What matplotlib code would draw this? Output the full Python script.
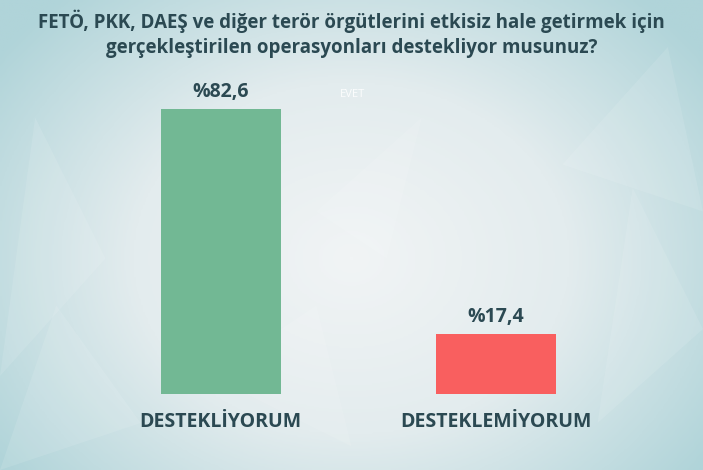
import numpy as np
import matplotlib.pyplot as plt
from matplotlib.colors import LinearSegmentedColormap
from matplotlib.patches import Polygon

categories = ['DESTEKLİYORUM', 'DESTEKLEMİYORUM']
values = [82.6, 17.4]
value_labels = ['%82,6', '%17,4']
bar_colors = ['#72b894', '#f95f5f']
title = ('FETÖ, PKK, DAEŞ ve diğer terör örgütlerini etkisiz hale getirmek için\n'
         'gerçekleştirilen operasyonları destekliyor musunuz?')
text_color = '#2b4952'

plt.rcParams['font.family'] = ['Open Sans', 'DejaVu Sans']

fig = plt.figure(figsize=(7.03, 4.70), dpi=100)

# arka plan: kenarlara doğru turkuaz, ortası açık
bg = fig.add_axes([0, 0, 1, 1])
yy, xx = np.mgrid[0:1:200j, 0:1:300j]
dist = np.sqrt(((xx - 0.5) / 0.62) ** 2 + ((yy - 0.45) / 0.75) ** 2)
cmap = LinearSegmentedColormap.from_list('bg', ['#f1f4f5', '#e3ecee', '#b0d4d9'])
bg.imshow(np.clip(dist, 0, 1), cmap=cmap, extent=[0, 1, 0, 1], aspect='auto', origin='lower')
polys = [
    [(0.0, 0.2), (0.15, 0.45), (0.05, 0.75)],
    [(0.0, 0.0), (0.2, 0.1), (0.08, 0.35)],
    [(0.85, 0.1), (1.0, 0.3), (0.9, 0.6)],
    [(0.8, 0.65), (0.95, 0.9), (1.0, 0.55)],
    [(0.45, 0.55), (0.6, 0.75), (0.55, 0.45)],
    [(0.3, 0.2), (0.5, 0.05), (0.45, 0.35)],
]
for p in polys:
    bg.add_patch(Polygon(p, closed=True, color='white', alpha=0.1, lw=0))
bg.set_xlim(0, 1)
bg.set_ylim(0, 1)
bg.axis('off')

ax = fig.add_axes([0, 1 - 394 / 470, 1, 0.7341])
ax.patch.set_alpha(0)
x = np.arange(len(categories))
bars = ax.bar(x, values, width=0.4356, color=bar_colors)
ax.set_xlim(-0.8004, 1.7514)
ax.set_ylim(0, 100)
ax.axis('off')

for b, lab in zip(bars, value_labels):
    ax.annotate(lab, (b.get_x() + b.get_width() / 2, b.get_height()),
                xytext=(0, 5), textcoords='offset points', ha='center', va='bottom',
                fontsize=14, fontweight='bold', color=text_color)
for xi, cat in zip(x, categories):
    ax.annotate(cat, (xi, 0), xytext=(0, -13), textcoords='offset points',
                ha='center', va='top', fontsize=14, fontweight='bold', color=text_color)

ax.text(0.48, 86.7, 'EVET', ha='center', va='center', fontsize=8,
        color='white', alpha=0.9)

fig.text(0.5, 1 - 34 / 470, title, ha='center', va='center', fontsize=13.5,
         fontweight='bold', color=text_color, linespacing=1.3)

fig.savefig('out.png', dpi=100)
